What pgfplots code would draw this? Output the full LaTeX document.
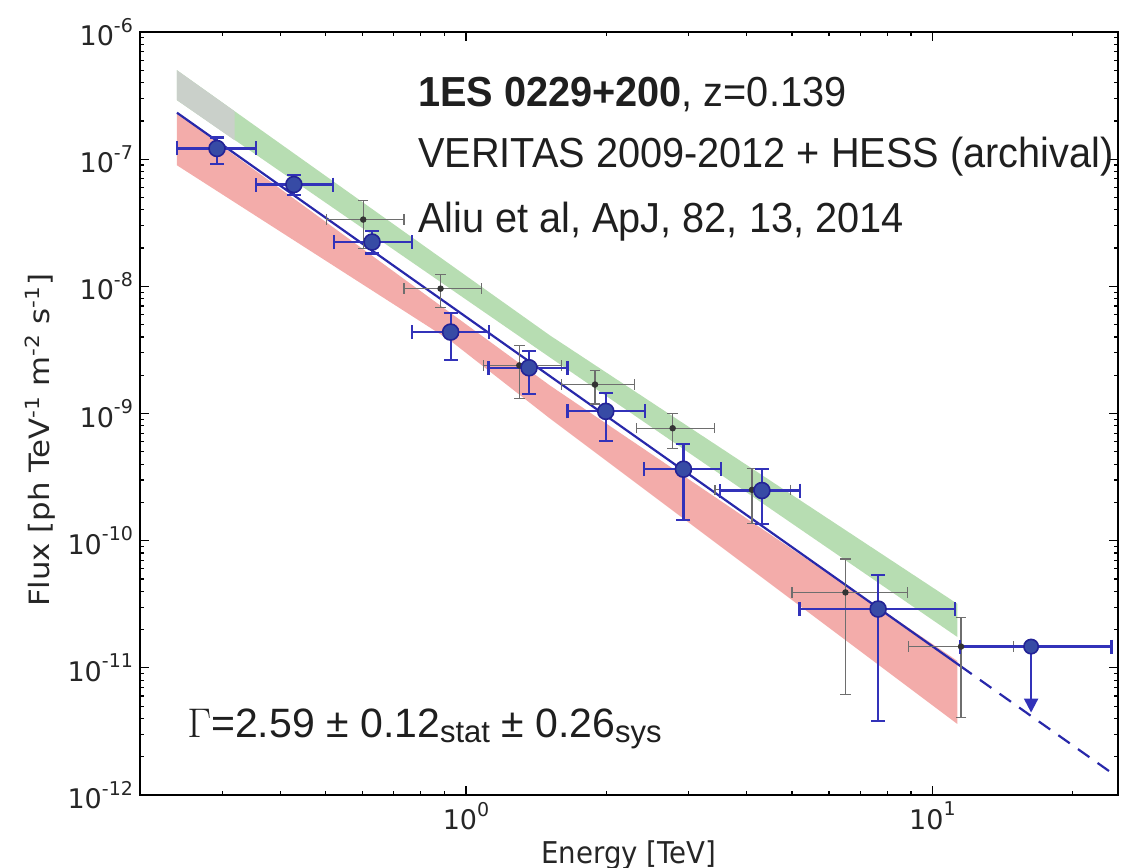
\documentclass[border=0pt]{standalone}
\usepackage{pgfplots}
\pgfplotsset{compat=1.18}
\usetikzlibrary{arrows.meta}
\usepackage{fontspec}
\setmainfont{DejaVu Sans}
\newfontfamily\xlabfont[FakeStretch=0.92]{DejaVu Sans}
\newfontfamily\ylabfont[FakeStretch=1.1]{DejaVu Sans}
\newfontfamily\annfont[FakeStretch=0.945]{Liberation Sans}
\newfontfamily\gamfont{Liberation Sans}
\definecolor{redband}{RGB}{243,172,170}
\definecolor{greenband}{RGB}{183,221,178}
\definecolor{grayband}{RGB}{202,208,202}
\definecolor{vline}{RGB}{40,40,170}
\definecolor{vfill}{RGB}{55,75,165}
\definecolor{vedge}{RGB}{35,35,150}
\definecolor{verr}{RGB}{50,50,185}
\definecolor{herr}{RGB}{110,110,110}
\newcommand\tl[1]{10\raisebox{0.5em}{\fontsize{9.5}{9.5}\selectfont #1}}
\begin{document}
\begin{tikzpicture}
\useasboundingbox (-70pt,-36.5pt) rectangle (490.5pt,397.5pt);
\begin{axis}[
  xmode=log, ymode=log,
  scale only axis, width=489pt, height=381.5pt,
  xmin=0.2, xmax=25, ymin=1e-12, ymax=1e-6,
  axis line style={line width=0.9pt},
  tick align=inside,
  major tick length=4.5pt, minor tick length=2.2pt,
  every tick/.style={black, line width=0.6pt},
  xtick={1,10}, xticklabels={\tl{0},\tl{1}},
  minor xtick={0.3,0.4,0.5,0.6,0.7,0.8,0.9,2,3,4,5,6,7,8,9,20},
  ytick={1e-12,1e-11,1e-10,1e-9,1e-8,1e-7,1e-6},
  yticklabels={\tl{-12},\tl{-11},\tl{-10},\tl{-9},\tl{-8},\tl{-7},\tl{-6}},
  minor ytick={2e-12,3e-12,4e-12,5e-12,6e-12,7e-12,8e-12,9e-12,
               2e-11,3e-11,4e-11,5e-11,6e-11,7e-11,8e-11,9e-11,
               2e-10,3e-10,4e-10,5e-10,6e-10,7e-10,8e-10,9e-10,
               2e-9,3e-9,4e-9,5e-9,6e-9,7e-9,8e-9,9e-9,
               2e-8,3e-8,4e-8,5e-8,6e-8,7e-8,8e-8,9e-8,
               2e-7,3e-7,4e-7,5e-7,6e-7,7e-7,8e-7,9e-7},
  ticklabel style={font=\fontsize{13.5}{13.5}\selectfont, color=black!85},
  xlabel={\xlabfont Energy [TeV]},
  ylabel={\ylabfont Flux [ph TeV\textsuperscript{-1} m\textsuperscript{-2} s\textsuperscript{-1}]},
  xlabel style={at={(axis description cs:0.5,-0.079)}, anchor=center, font=\fontsize{15}{15}\selectfont, color=black!85},
  ylabel style={at={(axis description cs:-0.102,0.465)}, anchor=center, font=\fontsize{14}{14}\selectfont, color=black!85},
]
% bands
\addplot[fill=redband, draw=none] coordinates {
 (0.2398,2.30e-7) (1.514,1.66e-9) (11.31,1.135e-11)
 (11.31,3.62e-12) (1.514,9.13e-10) (0.924,3.76e-9) (0.2398,8.97e-8)} --cycle;
\addplot[fill=greenband, draw=none] coordinates {
 (0.2398,5.02e-7) (1.514,4.11e-9) (11.31,3.19e-11)
 (11.31,1.75e-11) (1.514,2.76e-9) (0.2398,2.92e-7)} --cycle;
\addplot[fill=grayband, draw=none] coordinates {
 (0.2398,5.02e-7) (0.319,2.38e-7) (0.319,1.41e-7) (0.2398,2.92e-7)} --cycle;
% fit line
\addplot[vline, line width=1.1pt] coordinates {(0.24,2.32e-7) (11.48,1.034e-11)};
\addplot[vline, line width=1.1pt, dash pattern=on 7pt off 5pt] coordinates {(11.48,1.034e-11) (24.5,1.45e-12)};
% HESS
\addplot[only marks, mark=*, mark size=1.4pt, mark options={fill=black!80, draw=black!80},
  error bars/.cd, x dir=both, x explicit, y dir=both, y explicit,
  error bar style={herr, line width=0.6pt},
  error mark options={rotate=90, herr, line width=0.6pt, mark size=2.6pt}]
 table[x=x, y=y, x error minus=exm, x error plus=exp, y error minus=eym, y error plus=eyp] {
 x y exm exp eym eyp
 0.602 3.35e-8 0.0995 0.134 1.37e-8 1.35e-8
 0.882 9.59e-9 0.146 0.199 2.80e-9 2.81e-9
 1.301 2.39e-9 0.211 0.299 1.08e-9 1.04e-9
 1.891 1.69e-9 0.291 0.409 0.50e-9 0.49e-9
 2.774 7.66e-10 0.457 0.631 2.39e-10 2.29e-10
 4.104 2.51e-10 0.684 0.856 1.14e-10 1.16e-10
 6.51 3.92e-11 1.51 2.34 3.30e-11 3.26e-11
 11.52 1.47e-11 2.62 3.4 1.064e-11 1.02e-11
};
% VERITAS upper limit arrow
\addplot[verr, line width=1.1pt, -{Triangle[width=7pt,length=7pt]}] coordinates {(16.28,1.47e-11) (16.28,4.45e-12)};
% VERITAS
\addplot[only marks, mark=*, mark size=4pt, mark options={fill=vfill, draw=vedge, line width=0.8pt},
  error bars/.cd, x dir=both, x explicit, y dir=both, y explicit,
  error bar style={verr, line width=1.1pt},
  error mark options={rotate=90, verr, line width=1.1pt, mark size=3.5pt}]
 table[x=x, y=y, x error minus=exm, x error plus=exp, y error minus=eym, y error plus=eyp] {
 x y exm exp eym eyp
 0.2925 1.214e-7 0.052 0.0616 0.300e-7 0.269e-7
 0.4275 6.32e-8 0.0735 0.0905 1.11e-8 1.16e-8
 0.629 2.23e-8 0.108 0.136 0.42e-8 0.49e-8
 0.927 4.37e-9 0.162 0.195 1.72e-9 1.80e-9
 1.365 2.29e-9 0.248 0.285 0.86e-9 0.81e-9
 1.994 1.04e-9 0.344 0.428 4.28e-10 4.05e-10
 2.926 3.65e-10 0.516 0.600 2.19e-10 2.12e-10
 4.31 2.48e-10 0.80 0.90 1.12e-10 1.19e-10
 7.65 2.90e-11 2.46 3.55 2.517e-11 2.50e-11
};
\addplot[only marks, mark=*, mark size=3.6pt, mark options={fill=vfill, draw=vedge, line width=0.8pt},
  error bars/.cd, x dir=both, x explicit,
  error bar style={verr, line width=1.1pt},
  error mark options={rotate=90, verr, line width=1.1pt, mark size=3.5pt}]
 table[x=x, y=y, x error minus=exm, x error plus=exp] {
 x y exm exp
 16.28 1.47e-11 4.80 7.92
};
% annotations
\node[anchor=base west, inner sep=0, font=\annfont\fontsize{21}{21}\selectfont, color=black!88] at (axis description cs:0.284,0.903) {\textbf{1ES 0229+200}, z=0.139};
\node[anchor=base west, inner sep=0, font=\annfont\fontsize{21}{21}\selectfont, color=black!88] at (axis description cs:0.284,0.822) {VERITAS 2009-2012 + HESS (archival)};
\node[anchor=base west, inner sep=0, font=\annfont\fontsize{21}{21}\selectfont, color=black!88] at (axis description cs:0.284,0.7366) {Aliu et al, ApJ, 82, 13, 2014};
\node[anchor=base west, inner sep=0, font=\gamfont\fontsize{20.5}{20.5}\selectfont, color=black!88] at (axis description cs:0.048,0.075) {$\Gamma$=2.59 ± 0.12\raisebox{-0.12em}{\fontsize{15.5}{15.5}\selectfont stat} ± 0.26\raisebox{-0.12em}{\fontsize{15.5}{15.5}\selectfont sys}};
\end{axis}
\end{tikzpicture}
\end{document}
